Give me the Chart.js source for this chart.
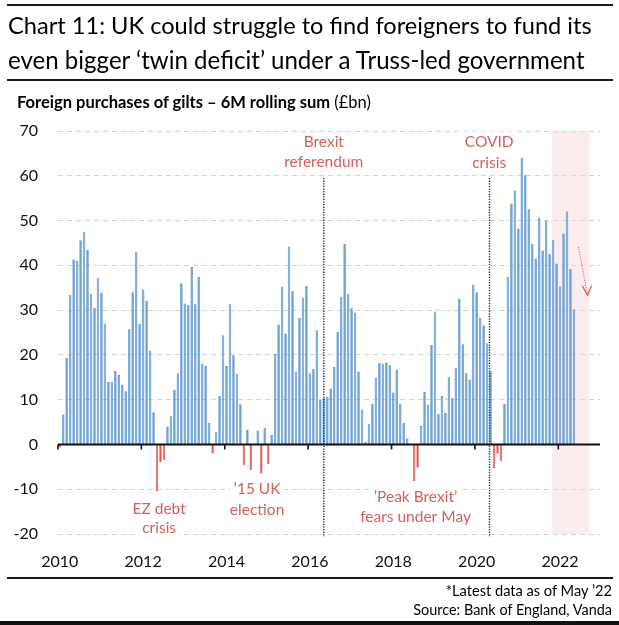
<!DOCTYPE html>
<html><head><meta charset="utf-8">
<script src="https://cdn.jsdelivr.net/npm/chart.js@4.4.0/dist/chart.umd.min.js"></script>
<style>
html,body{margin:0;padding:0;background:#fff;}
#wrap{position:relative;width:619px;height:625px;overflow:hidden;font-family:Lato,'Open Sans',sans-serif;color:#000;}
.rule{position:absolute;left:7px;width:606px;background:#1a1a1a;}
.t{position:absolute;white-space:nowrap;line-height:1;}
#cv{position:absolute;left:0;top:0;width:619px;height:625px;}
</style></head>
<body><div id="wrap">
<div id="cv"><canvas id="c" width="619" height="625"></canvas></div>
<div class="rule" style="top:4px;height:2px"></div>
<div class="t" id="t1" style="left:8px;top:14px;font-size:25px">Chart 11: UK could struggle to find foreigners to fund its</div>
<div class="t" id="t2" style="left:8px;top:48px;font-size:25px">even bigger ‘twin deficit’ under a Truss-led government</div>
<div class="rule" style="top:79px;height:2px"></div>
<div class="t" id="sub" style="left:17px;top:94px;font-size:19px"><b>Foreign purchases of gilts – 6M rolling sum</b> (£bn)</div>
<div class="rule" style="top:577px;height:2px"></div>
<div class="t" id="f1" style="right:7px;top:584px;font-size:14px">*Latest data as of May ’22</div>
<div class="t" id="f2" style="right:7px;top:603px;font-size:14px">Source: Bank of England, Vanda</div>
<div style="position:absolute;left:0;top:621px;width:619px;height:4px;background:#111"></div>
</div>
<script>
// ---- data (6M rolling sum of foreign gilt purchases, £bn, monthly) ----
const firstYear = 2010;
const lastYear = 2022;
const tickYears = ['2010','2012','2014','2016','2018','2020','2022'];
const y2010 = [-0.7, 6.7, 19.3, 33.4, 41.3, 41.0, 45.6, 47.5, 43.4, 33.6, 30.5, 37.1];
const y2011 = [33.8, 27.0, 14.0, 14.0, 16.4, 15.5, 13.4, 11.9, 25.7, 34.0, 43.0, 26.9];
const y2012 = [34.6, 32.1, 21.0, 7.2, -10.5, -4.0, -3.5, 4.0, 6.3, 12.2, 15.9, 36.0];
const y2013 = [31.5, 31.2, 39.6, 31.3, 37.4, 18.0, 17.5, 4.8, -2.0, 2.7, 10.8, 24.4];
const y2014 = [17.5, 31.3, 19.9, 15.8, 9.0, -4.6, 3.2, -5.7, 0, 3.1, -6.5, 3.6];
const y2015 = [-4.4, 2.1, 20.2, 26.8, 35.3, 24.8, 44.2, 34.2, 16.3, 28.3, 32.8, 35.4];
const y2016 = [15.9, 16.9, 25.5, 9.9, 10.4, 10.6, 12.5, 17.3, 25.1, 33.0, 44.8, 33.6];
const y2017 = [30.4, 29.4, 16.3, 7.8, 0.6, 4.6, 9.1, 14.9, 18.2, 18.1, 18.3, 17.8];
const y2018 = [11.6, 16.6, 9.1, 4.8, 1.4, 0, -8.2, -5.2, 4.1, 11.7, 8.8, 22.2];
const y2019 = [29.7, 6.8, 10.8, 7.0, 15.0, 10.4, 17.0, 32.6, 22.4, 16.0, 14.5, 35.7];
const y2020 = [34.0, 28.3, 26.6, 22.6, 16.4, -5.4, -2.1, -3.7, 9.1, 37.4, 53.8, 56.7];
const y2021 = [48.2, 64.0, 60.1, 52.5, 44.7, 41.5, 50.6, 43.3, 50.0, 42.6, 45.7, 40.4];
const y2022 = [35.3, 47.1, 52.0, 39.2, 30.2];

const purchases = [].concat(y2010,y2011,y2012,y2013,y2014,y2015,y2016,y2017,y2018,y2019,y2020,y2021,y2022);
const months = [];
for (let yr = firstYear; yr <= lastYear; yr++) for (let m = 1; m <= 12; m++) months.push(yr + '-' + String(m).padStart(2,'0'));
const series = months.map((_, i) => i < purchases.length ? purchases[i] : null);

// ---- styling / annotations (layout only) ----
const BLUE = '#6aa3d9', BLUE_EDGE = '#3f7dbd', RED = '#e2554f', NOTE = '#d65f5a';
const FONT = 'Lato, "Open Sans", sans-serif';
const notes = [
  {at: 76,    lines: ['Brexit','referendum'], ys: [67.5, 63.0]},
  {at: 123.6, lines: ['COVID','crisis'], ys: [67.6, 62.9]},
  {at: 28.6,  lines: ['EZ debt','crisis'], ys: [-14.5, -18.7]},
  {at: 56.8,  lines: ['\u201915 UK','election'], ys: [-10.0, -14.7]},
  {at: 102.4, lines: ['\u2019Peak Brexit\u2019','fears under May'], ys: [-11.8, -16.2]}
];
const eventLines = [76, 123.7];
const shade = [141.7, 152.4];

const overlay = {
  id: 'overlay',
  beforeDatasetsDraw(chart) {
    const {ctx, chartArea: a, scales: {x}} = chart;
    const x0 = x.getPixelForValue(shade[0]), x1 = x.getPixelForValue(shade[1]);
    ctx.save();
    ctx.fillStyle = 'rgba(246,214,214,0.45)';
    ctx.fillRect(x0, a.top, x1 - x0, a.bottom - a.top);
    ctx.restore();
  },
  afterDatasetsDraw(chart) {
    const {ctx, chartArea: a, scales: {x, y}} = chart;
    const half = (x.getPixelForValue(1) - x.getPixelForValue(0)) / 2;
    const y0 = y.getPixelForValue(0);
    ctx.save();
    // zero axis line
    ctx.strokeStyle = '#111'; ctx.lineWidth = 2;
    ctx.beginPath(); ctx.moveTo(a.left, y0); ctx.lineTo(a.right, y0); ctx.stroke();
    // tick marks on zero line
    ctx.lineWidth = 1.6;
    months.forEach((mm, i) => {
      const [yr, mo] = mm.split('-');
      if (mo === '01' && tickYears.includes(yr)) {
        const px = x.getPixelForValue(i) - half;
        ctx.beginPath(); ctx.moveTo(px, y0); ctx.lineTo(px, y0 + 5); ctx.stroke();
      }
    });
    // event dotted lines
    ctx.strokeStyle = '#1f2f55'; ctx.lineWidth = 1.4; ctx.setLineDash([1.3, 1.3]);
    eventLines.forEach(v => {
      const px = x.getPixelForValue(v);
      ctx.beginPath(); ctx.moveTo(px, y.getPixelForValue(59.5)); ctx.lineTo(px, a.bottom + 3); ctx.stroke();
    });
    ctx.setLineDash([]);
    // annotations
    ctx.font = '15.5px ' + FONT; ctx.textAlign = 'center'; ctx.textBaseline = 'middle';
    notes.forEach(n => {
      const px = x.getPixelForValue(n.at);
      n.lines.forEach((t, k) => {
        const py = y.getPixelForValue(n.ys[k]);
        const w = ctx.measureText(t).width;
        ctx.fillStyle = '#fff';
        ctx.fillRect(px - w / 2 - 3, py - 10, w + 6, 20);
      });
      ctx.fillStyle = NOTE;
      n.lines.forEach((t, k) => ctx.fillText(t, px, y.getPixelForValue(n.ys[k])));
    });
    // arrow
    const ax0 = x.getPixelForValue(149.3), ay0 = y.getPixelForValue(44.1);
    const ax1 = x.getPixelForValue(151.9), ay1 = y.getPixelForValue(33.3);
    ctx.strokeStyle = NOTE; ctx.lineWidth = 1; ctx.setLineDash([1.2, 1.2]);
    ctx.beginPath(); ctx.moveTo(ax0, ay0); ctx.lineTo(ax1, ay1); ctx.stroke();
    ctx.setLineDash([]); ctx.lineWidth = 1.3;
    ctx.beginPath();
    ctx.moveTo(x.getPixelForValue(150.4), y.getPixelForValue(35.4));
    ctx.lineTo(ax1, ay1);
    ctx.lineTo(x.getPixelForValue(153.1), y.getPixelForValue(35.5));
    ctx.stroke();
    ctx.restore();
  }
};

new Chart(document.getElementById('c'), {
  type: 'bar',
  data: {
    labels: months,
    datasets: [{
      data: series,
      backgroundColor: c => (c.raw < 0 ? RED : BLUE),
      borderColor: c => (c.raw < 0 ? RED : BLUE_EDGE),
      borderWidth: 0.6,
      barPercentage: 0.72,
      categoryPercentage: 1
    }]
  },
  options: {
    responsive: false, animation: false, devicePixelRatio: 1,
    layout: {padding: {left: 6, right: 19, top: 131, bottom: 51}},
    plugins: {legend: {display: false}, tooltip: {enabled: false}},
    scales: {
      x: {
        grid: {display: false},
        border: {display: false},
        ticks: {
          autoSkip: false, maxRotation: 0, minRotation: 0, padding: 10,
          color: '#111', font: {family: FONT, size: 16},
          callback: (v, i) => {
            const [yr, mo] = months[i].split('-');
            return (mo === '01' && tickYears.includes(yr)) ? yr : '';
          }
        },
        afterFit: s => { s.height = 40; }
      },
      y: {
        min: -20, max: 70,
        ticks: {stepSize: 10, padding: 20, color: '#111', font: {family: FONT, size: 16}},
        grid: {color: '#d3d3d3', lineWidth: 1, drawTicks: false},
        border: {display: false, dash: [5, 4]},
        afterFit: s => { s.width = 52; }
      }
    }
  },
  plugins: [overlay]
});

// fit header/footer text widths to the reference
function fit(id, w) {
  const el = document.getElementById(id);
  const fs = parseFloat(el.style.fontSize);
  el.style.fontSize = (fs * w / el.offsetWidth).toFixed(2) + 'px';
}
fit('t1', 584); fit('t2', 577); fit('sub', 354); fit('f1', 166); fit('f2', 199);
</script>
</body></html>
